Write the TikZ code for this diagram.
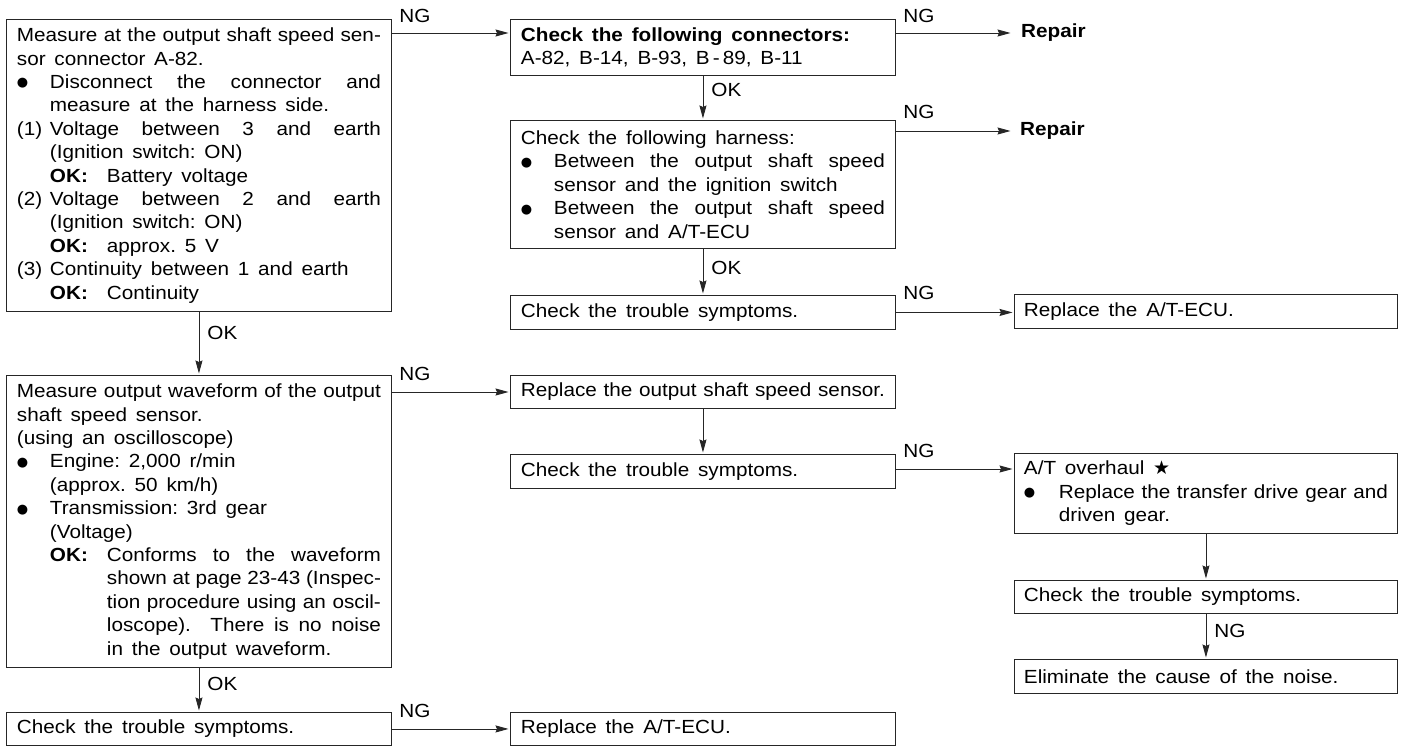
\documentclass[tikz,border=0pt]{standalone}
\usepackage{fontspec}
\setmainfont{Liberation Sans}[FakeStretch=1.09]
\newfontfamily\symf{DejaVu Sans}
\usetikzlibrary{arrows.meta,calc}
\newcommand\jst[2]{{\spaceskip=0pt\xspaceskip=0pt\makebox[#1][s]{#2}}}
\newcommand\ind[1]{\makebox[33pt][l]{#1}}
\newcommand\bul{\raisebox{1.5pt}{\symf\fontsize{13pt}{13pt}\selectfont ●}}
\newcommand\okl{\makebox[57pt][l]{\textbf{OK:}}}
\tikzset{
  box/.style={draw=black!85, line width=0.9pt, anchor=north west, inner xsep=10.5pt, inner ysep=0pt,
    text width=364pt, align=left, font=\fontsize{19pt}{23.4pt}\selectfont,
    execute at begin node={\spaceskip=8.8pt plus 2pt minus 1pt\xspaceskip=8.8pt plus 2pt minus 1pt}},
  rbox/.style={box, inner xsep=9.5pt},
  arr/.style={draw=black!85, line width=0.9pt, -{Stealth[length=13pt,width=7pt,inset=1.5pt]}, shorten >=1.5pt},
  lbl/.style={inner sep=0pt, font=\fontsize{19pt}{23.4pt}\selectfont},
  rep/.style={inner ysep=0pt, inner xsep=9pt, anchor=west, font=\fontsize{19pt}{23.4pt}\selectfont\bfseries},
}
\begin{document}
\begin{tikzpicture}[x=1pt,y=-1pt]
\useasboundingbox[fill=white] (0,0) rectangle (1406,746);

\node[box, minimum height=292pt] (A) at (6,19) {%
\jst{364pt}{Measure at the output shaft speed sen-}\\
sor connector A-82.\\
\ind{\bul}\jst{331pt}{Disconnect the connector and}\\
\ind{}measure at the harness side.\\
\ind{(1)}\jst{331pt}{Voltage between 3 and earth}\\
\ind{}(Ignition switch: ON)\\
\ind{}\okl Battery voltage\\
\ind{(2)}\jst{331pt}{Voltage between 2 and earth}\\
\ind{}(Ignition switch: ON)\\
\ind{}\okl approx. 5 V\\
\ind{(3)}Continuity between 1 and earth\\
\ind{}\okl Continuity};

\node[box, minimum height=56pt] (B) at (510,19) {%
\textbf{Check the following connectors:}\\
A-82, B-14, B-93, B\,-\,89, B-11};

\node[box, minimum height=128pt] (C) at (510,120) {%
Check the following harness:\\
\ind{\bul}\jst{331pt}{Between the output shaft speed}\\
\ind{}sensor and the ignition switch\\
\ind{\bul}\jst{331pt}{Between the output shaft speed}\\
\ind{}sensor and A/T-ECU};

\node[box, minimum height=34pt] (D) at (510,295) {Check the trouble symptoms.};
\node[rbox, minimum height=34pt] (E) at (1014,294) {Replace the A/T-ECU.};

\node[rep] (R1) at (1012,33) {Repair};
\node[rep, inner xsep=8pt] (R2) at (1012,131) {Repair};

\node[box, minimum height=292pt] (F) at (6,375) {%
\jst{364pt}{Measure output waveform of the output}\\
shaft speed sensor.\\
(using an oscilloscope)\\
\ind{\bul}Engine: 2,000 r/min\\
\ind{}(approx. 50 km/h)\\
\ind{\bul}Transmission: 3rd gear\\
\ind{}(Voltage)\\
\ind{}\okl\jst{274pt}{Conforms to the waveform}\\
\ind{}\hspace*{57pt}\jst{274pt}{shown at page 23-43 (Inspec-}\\
\ind{}\hspace*{57pt}\jst{274pt}{tion procedure using an oscil-}\\
\ind{}\hspace*{57pt}\jst{274pt}{loscope). There is no noise}\\
\ind{}\hspace*{57pt}in the output waveform.};

\node[box, minimum height=33pt] (G) at (510,375) {\jst{364pt}{Replace the output shaft speed sensor.}};
\node[box, minimum height=34pt] (H) at (510,454) {Check the trouble symptoms.};

\node[rbox, minimum height=80pt] (I) at (1014,453) {%
A/T overhaul {\symf\fontsize{19pt}{19pt}\selectfont ★}\\
\makebox[35pt][l]{\bul}\jst{329pt}{Replace the transfer drive gear and}\\
\makebox[35pt][l]{}driven gear.};
\node[rbox, minimum height=33pt] (J) at (1014,580) {Check the trouble symptoms.};
\node[rbox, minimum height=34pt] (K) at (1014,659) {Eliminate the cause of the noise.};

\node[box, minimum height=33pt] (L) at (6,712) {Check the trouble symptoms.};
\node[box, minimum height=33pt] (M) at (510,712) {Replace the A/T-ECU.};

% connectors
\draw[arr] ($(A.north east)+(0,14)$) -- ($(B.north west)+(0,14)$)
  node[pos=0, lbl, anchor=south west, xshift=7pt, yshift=10pt] {NG};
\draw[arr] ($(B.north east)+(0,14)$) -- (R1.west)
  node[pos=0, lbl, anchor=south west, xshift=7pt, yshift=10pt] {NG};
\draw[arr] (B.south) -- (C.north)
  node[pos=0, lbl, anchor=north west, xshift=8pt, yshift=-7pt] {OK};
\draw[arr] ($(C.north east)+(0,11)$) -- (R2.west)
  node[pos=0, lbl, anchor=south west, xshift=7pt, yshift=12pt] {NG};
\draw[arr] (C.south) -- (D.north)
  node[pos=0, lbl, anchor=north west, xshift=8pt, yshift=-12pt] {OK};
\draw[arr] (D.east) -- (D.east -| E.west)
  node[pos=0, lbl, anchor=south west, xshift=7pt, yshift=12pt] {NG};

\draw[arr] (A.south) -- (F.north)
  node[pos=0, lbl, anchor=north west, xshift=8pt, yshift=-14pt] {OK};
\draw[arr] ($(F.north east)+(0,17)$) -- ($(G.north west)+(0,17)$)
  node[pos=0, lbl, anchor=south west, xshift=7pt, yshift=11pt] {NG};
\draw[arr] (G.south) -- (H.north);
\draw[arr] ($(H.north east)+(0,15)$) -- ($(I.north west)+(0,16)$)
  node[pos=0, lbl, anchor=south west, xshift=7pt, yshift=11pt] {NG};
\draw[arr] (I.south) -- (J.north);
\draw[arr] (J.south) -- (K.north)
  node[pos=0, lbl, anchor=north west, xshift=8pt, yshift=-10pt] {NG};

\draw[arr] (F.south) -- (L.north)
  node[pos=0, lbl, anchor=north west, xshift=8pt, yshift=-9pt] {OK};
\draw[arr] (L.east) -- (L.east -| M.west)
  node[pos=0, lbl, anchor=south west, xshift=7pt, yshift=11pt] {NG};
\end{tikzpicture}
\end{document}
